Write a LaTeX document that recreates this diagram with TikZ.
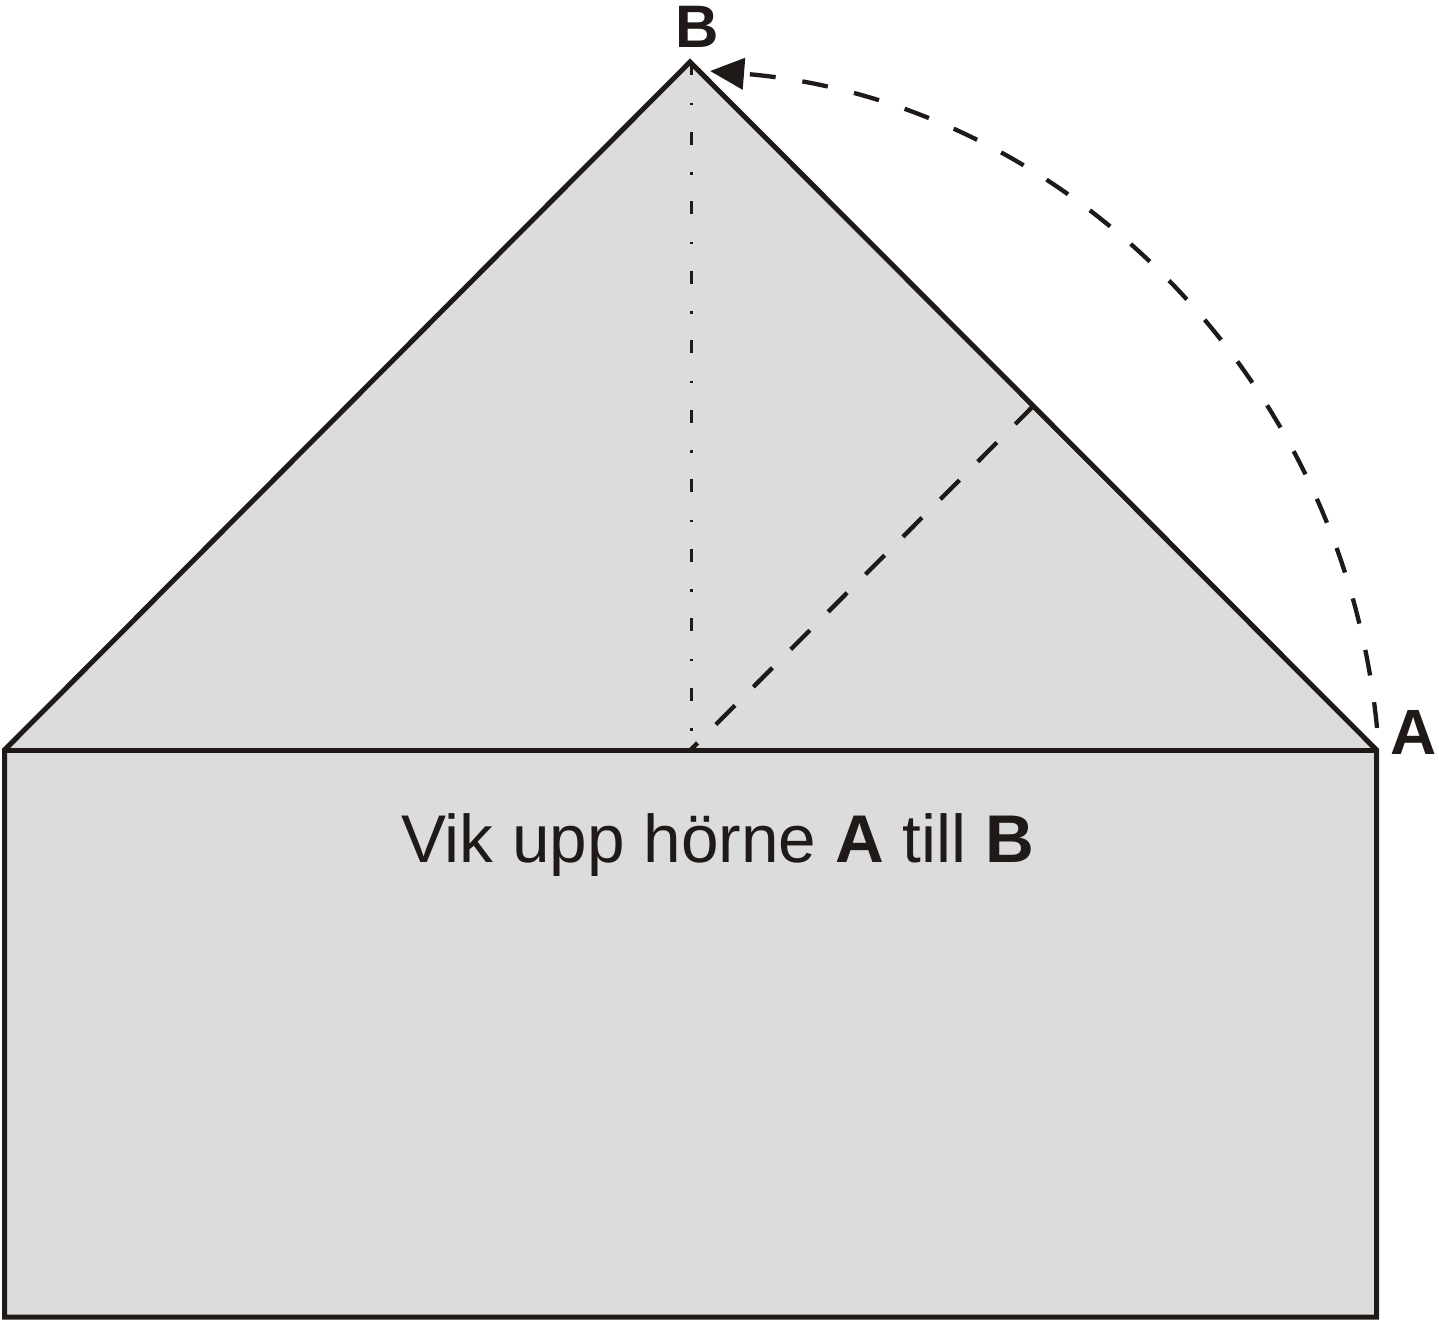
\documentclass[tikz,border=0pt]{standalone}
\usepackage{fontspec}
\setmainfont{Liberation Sans}
\usetikzlibrary{arrows.meta}
\definecolor{ink}{RGB}{31,26,23}
\definecolor{paper}{RGB}{220,220,220}
\tikzset{
  outline/.style={draw=ink, line width=5pt, line join=miter, fill=paper},
  edgeline/.style={draw=ink, line width=5pt},
  foldline/.style={draw=ink, line width=4.3pt, dash pattern=on 27pt off 26pt, dash phase=17pt},
  axisline/.style={draw=ink, line width=3pt, dash pattern=on 13pt off 27.5pt on 2.5pt off 26.5pt},
  moveline/.style={draw=ink, line width=4.3pt, dash pattern=on 26pt off 27pt, -{Triangle[length=34pt,width=31pt]}},
  lab/.style={inner sep=0pt, anchor=base, text=ink},
}
\begin{document}
\begin{tikzpicture}[x=1pt,y=1pt]
\useasboundingbox (0,0) rectangle (1439,-1320);
\coordinate (L) at (4.5,-750);
\coordinate (R) at (1376.5,-750);
\coordinate (T) at (690,-62);
\coordinate (BL) at (4.5,-1317);
\coordinate (BR) at (1376.5,-1317);
\coordinate (VT) at (691,-62);
\coordinate (VB) at (691,-750);
\coordinate (M) at (690.5,-750);
\coordinate (E) at (1033.25,-406);
\coordinate (S) at (1377,-728);
% paper
\path[outline] (L) -- (T) -- (R) -- (BR) -- (BL) -- cycle;
% fold lines
\draw[axisline] (VT) -- (VB);
\draw[foldline] (M) -- (E);
% base edge
\draw[edgeline] (L) -- (R);
% movement arc
\draw[moveline] (S) arc[start angle=5.46, end angle=85.4, radius=728.7];
% labels
\node[lab, font=\fontsize{60}{66}\selectfont\bfseries] (labB) at (697.5,-47) {B};
\node[lab, font=\fontsize{64}{70}\selectfont\bfseries] (labA) at (1414,-754) {A};
\node[lab, font=\fontsize{67.5}{72}\selectfont] (caption) at (717.5,-862) {Vik upp hörne \textbf{A} till \textbf{B}};
\end{tikzpicture}
\end{document}
